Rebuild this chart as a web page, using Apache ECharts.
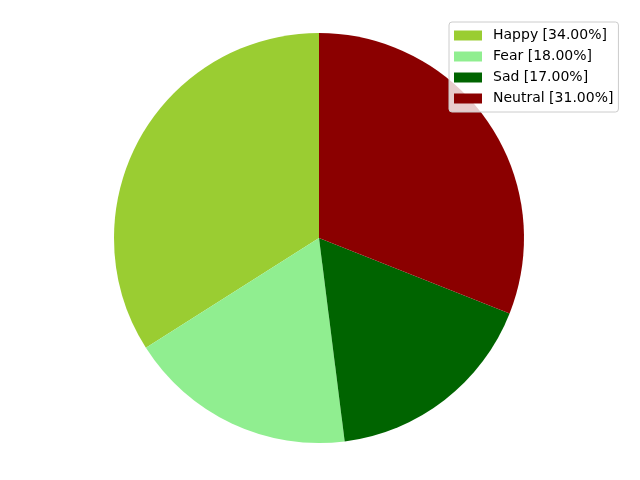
<!DOCTYPE html>
<html><head><meta charset="utf-8">
<script src="https://cdn.jsdelivr.net/npm/echarts@6/dist/echarts.min.js"></script>
<style>html,body{margin:0;padding:0;background:#fff}#c{width:640px;height:480px}</style>
</head><body><div id="c"></div>
<script>
var categories = ['Happy', 'Fear', 'Sad', 'Neutral'];
var values = [34, 18, 17, 31];
var colors = ['#9ACD32', '#90EE90', '#006400', '#8B0000'];

var total = values.reduce(function(a, b){ return a + b; }, 0);
var pct = {};
categories.forEach(function(c, i){ pct[c] = (values[i] / total * 100).toFixed(2); });

var chart = echarts.init(document.getElementById('c'), null, {renderer: 'canvas'});
chart.setOption({
  animation: false,
  backgroundColor: '#fff',
  legend: {
    orient: 'vertical',
    left: 449,
    top: 22,
    icon: 'rect',
    itemWidth: 28,
    itemHeight: 10,
    itemGap: 6,
    padding: [6, 5, 6, 5],
    backgroundColor: 'rgba(255,255,255,0.8)',
    borderColor: '#cccccc',
    borderWidth: 1,
    borderRadius: 3,
    z: 10,
    textStyle: {
      fontFamily: 'DejaVu Sans',
      fontSize: 14,
      color: '#000',
      padding: [0, 0, 0, 6],
      lineHeight: 15
    },
    formatter: function(name){ return name + ' [' + pct[name] + '%]'; },
    data: categories
  },
  series: [{
    type: 'pie',
    center: [319, 238],
    radius: 205,
    startAngle: 90,
    clockwise: false,
    label: {show: false},
    labelLine: {show: false},
    emphasis: {disabled: true},
    itemStyle: {borderWidth: 0},
    data: categories.map(function(c, i){
      return {name: c, value: values[i], itemStyle: {color: colors[i]}};
    })
  }]
});
</script>
</body></html>
